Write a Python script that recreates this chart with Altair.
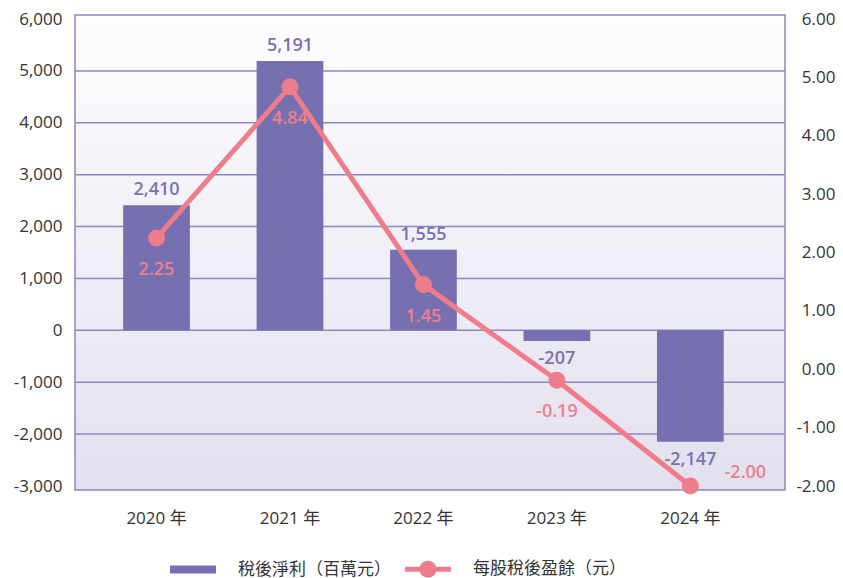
import altair as alt
import pandas as pd

# ---- data ----
years = ["2020 年", "2021 年", "2022 年", "2023 年", "2024 年"]
net_income = [2410, 5191, 1555, -207, -2147]          # 稅後淨利（百萬元）
eps = [2.25, 4.84, 1.45, -0.19, -2.00]                # 每股稅後盈餘（元）
left_ticks = [-3000, -2000, -1000, 0, 1000, 2000, 3000, 4000, 5000, 6000]
right_ticks = [-2, -1, 0, 1, 2, 3, 4, 5, 6]
series = ["稅後淨利（百萬元）", "每股稅後盈餘（元）"]

df = pd.DataFrame({"year": years, "income": net_income, "eps": eps})
df["income_label"] = [f"{v:,}" for v in net_income]
df["eps_label"] = [f"{v:.2f}" for v in eps]
grid_df = pd.DataFrame({"v": left_ticks})
legend_df = pd.DataFrame({"series": series})

# ---- style ----
PURPLE = "#766FB0"
PURPLE_TXT = "#7A72B4"
PINK = "#EE7C8B"
PINK_TXT = "#EF7F8E"
GRID = "#8E87C4"
AXIS_TXT = "#333333"
FONT = "Open Sans, Noto Sans CJK TC"
CJK = "Noto Sans CJK TC"
W, H = 710, 475

xscale = alt.Scale(domain=years, paddingInner=0.5, paddingOuter=0.41, align=0.44)
yl = alt.Scale(domain=[-3000, 6000], nice=False, padding=4)
yr = alt.Scale(domain=[-2, 6], nice=False, zero=False, padding=4)

# identical x definition in every layer so the shared axis merges cleanly
x_enc = alt.X("year:N", scale=xscale, sort=years,
              axis=alt.Axis(title=None, orient="bottom", labelFont=FONT, labelFontSize=17,
                            labelColor=AXIS_TXT, labelPadding=20, ticks=False,
                            domain=False, labelAngle=0, grid=False))

minus_fix_l = "replace(format(datum.value, ','), '\u2212', '-')"
minus_fix_r = "replace(format(datum.value, '.2f'), '\u2212', '-')"

bg = alt.Chart(alt.Data(values=[{"a": 1}])).mark_rect(
    fill=alt.LinearGradient(
        gradient="linear", x1=0, y1=0, x2=0, y2=1,
        stops=[alt.GradientStop(offset=0, color="#FDFDFE"),
               alt.GradientStop(offset=1, color="#E3E0EE")]),
    stroke=GRID, strokeWidth=1.5,
).encode(x=alt.value(0), x2=alt.value("width"), y=alt.value(0), y2=alt.value("height"))

# interior gridlines (outer ones coincide with the plot frame)
grid = alt.Chart(grid_df).transform_filter(
    "datum.v > -3000 && datum.v < 6000"
).mark_rule(color=GRID, strokeWidth=1.5).encode(
    y=alt.Y("v:Q", scale=yl, axis=None),
    x=alt.value(0), x2=alt.value("width"))

bars = alt.Chart(df).mark_bar(color=PURPLE).encode(
    x=x_enc,
    y=alt.Y("income:Q", scale=yl,
            axis=alt.Axis(title=None, orient="left", values=left_ticks, grid=False,
                          ticks=False, domain=False, labelPadding=13, labelFontSize=17,
                          labelFont=FONT, labelColor=AXIS_TXT, labelExpr=minus_fix_l)))

pos_lab = alt.Chart(df).transform_filter("datum.income >= 0").mark_text(
    font=FONT, fontSize=18, fontWeight=600, color=PURPLE_TXT, dy=-15, baseline="middle"
).encode(x=x_enc, y=alt.Y("income:Q", scale=yl, axis=None), text="income_label:N")

neg_lab = alt.Chart(df).transform_filter("datum.income < 0").mark_text(
    font=FONT, fontSize=18, fontWeight=600, color=PURPLE_TXT, dy=18, baseline="middle"
).encode(x=x_enc, y=alt.Y("income:Q", scale=yl, axis=None), text="income_label:N")

line = alt.Chart(df).mark_line(color=PINK, strokeWidth=5).encode(
    x=x_enc,
    y=alt.Y("eps:Q", scale=yr,
            axis=alt.Axis(title=None, orient="right", values=right_ticks, grid=False,
                          ticks=False, domain=False, labelPadding=50, labelAlign="right",
                          labelFontSize=17, labelFont=FONT, labelColor=AXIS_TXT,
                          labelExpr=minus_fix_r)))

pts = alt.Chart(df).mark_circle(size=290, color=PINK, opacity=1).encode(
    x=x_enc, y=alt.Y("eps:Q", scale=yr, axis=None))

eps_lab = alt.Chart(df).transform_filter("datum.year != '2024 年'").mark_text(
    font=FONT, fontSize=18, fontWeight=600, color=PINK_TXT, dy=32, baseline="middle"
).encode(x=x_enc, y=alt.Y("eps:Q", scale=yr, axis=None), text="eps_label:N")

eps_lab_last = alt.Chart(df).transform_filter("datum.year == '2024 年'").mark_text(
    font=FONT, fontSize=18, fontWeight=600, color=PINK_TXT, dx=55, dy=-13, baseline="middle"
).encode(x=x_enc, y=alt.Y("eps:Q", scale=yr, axis=None), text="eps_label:N")

bar_path = "M-1,-0.17L1,-0.17L1,0.17L-1,0.17Z"
line_path = ("M-1,-0.11L-0.3533,-0.11A0.37,0.37 0 0 1 0.3533,-0.11L1,-0.11"
             "L1,0.11L0.3533,0.11A0.37,0.37 0 0 1 -0.3533,0.11L-1,0.11Z")

legend_props = dict(orient="none", legendX=95, legendY=531, direction="horizontal",
                    title=None, labelFont=CJK, labelFontSize=17, labelColor=AXIS_TXT,
                    symbolSize=2116, symbolStrokeWidth=0, labelOffset=22,
                    columnPadding=14, padding=0, labelLimit=400)

legend_layer = alt.Chart(legend_df).transform_filter("false").mark_point(
    filled=True, opacity=1, strokeWidth=0
).encode(
    color=alt.Color("series:N", scale=alt.Scale(domain=series, range=[PURPLE, PINK]),
                    legend=alt.Legend(**legend_props)),
    shape=alt.Shape("series:N", scale=alt.Scale(domain=series, range=[bar_path, line_path]),
                    legend=alt.Legend(**legend_props)),
)

chart = alt.layer(
    bg, grid, bars, pos_lab, neg_lab, line, pts, eps_lab, eps_lab_last, legend_layer
).resolve_scale(y="independent").properties(
    width=W, height=H,
    autosize=alt.AutoSizeParams(type="none"),
    padding={"left": 67, "top": 7, "right": 50, "bottom": 88},
).configure_view(stroke=None)

chart.save("out.html", embed_options={"renderer": "svg", "actions": False})
